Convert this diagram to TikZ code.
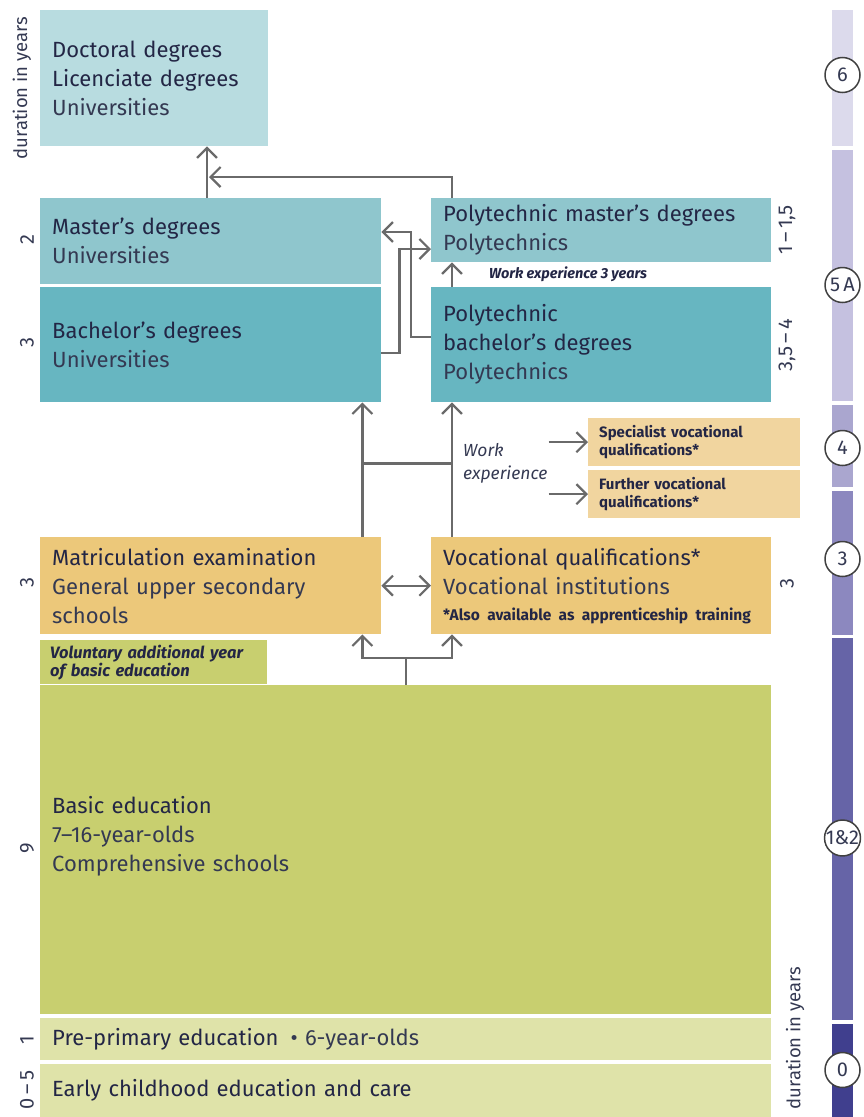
\documentclass[tikz,border=0pt]{standalone}
\usepackage{fontspec}
\setmainfont{Fira Sans}
\usetikzlibrary{arrows.meta}

\definecolor{ink}{HTML}{232645}
\definecolor{inksub}{HTML}{343952}
\definecolor{linkgray}{HTML}{6A6A6A}
\definecolor{doctoralc}{HTML}{B8DCE0}
\definecolor{masterc}{HTML}{8FC6CD}
\definecolor{bachelorc}{HTML}{67B6C1}
\definecolor{upperc}{HTML}{ECC87A}
\definecolor{furtherc}{HTML}{F1D59F}
\definecolor{basicc}{HTML}{C8CF6F}
\definecolor{earlyc}{HTML}{DFE3A9}
\definecolor{barsix}{HTML}{DCDAEC}
\definecolor{barfive}{HTML}{C5C1E0}
\definecolor{barfour}{HTML}{AAA6CF}
\definecolor{barthree}{HTML}{8C88BF}
\definecolor{barbasic}{HTML}{6664A7}
\definecolor{barzero}{HTML}{403F8E}

\newcommand{\sub}[1]{{\color{inksub}#1}}

\begin{document}
\begin{tikzpicture}[x=1pt,y=-1pt]
    \tikzstyle{box}=[rectangle,anchor=north west,inner xsep=12pt,inner ysep=0pt,align=left,text=ink,font=\fontsize{22}{29}\selectfont]
    \tikzstyle{half}=[text width=317pt,minimum width=341pt]
    \tikzstyle{full}=[text width=707pt,minimum width=731pt]
    \tikzstyle{small}=[box,inner xsep=11pt,text width=190pt,minimum width=212pt,minimum height=48pt,fill=furtherc,font=\fontsize{15}{17.5}\selectfont\bfseries]
    \tikzstyle{link}=[draw=linkgray,line width=2.2pt,-{Straight Barb[length=10pt,width=20pt]}]
    \tikzstyle{twoway}=[link,{Straight Barb[length=10pt,width=20pt]}-{Straight Barb[length=10pt,width=20pt]}]
    \tikzstyle{line}=[draw=linkgray,line width=2.2pt]
    \tikzstyle{side}=[rotate=90,text=inksub,font=\fontsize{20}{20}\selectfont]
    \tikzstyle{level}=[circle,draw=black!75,line width=1.5pt,fill=white,minimum size=35pt,inner sep=0pt,text=inksub,font=\fontsize{20}{20}\selectfont]
    \useasboundingbox (0,0) rectangle (863,1117);
    \node (doctoral)     at (40,10)   [box,fill=doctoralc,text width=204pt,minimum width=228pt,minimum height=136pt] {Doctoral degrees\\Licenciate degrees\\\sub{Universities}};
    \node (master)       at (40,198)  [box,half,fill=masterc,minimum height=86pt] {Master’s degrees\\\sub{Universities}};
    \node (bachelor)     at (40,287)  [box,half,fill=bachelorc,minimum height=115pt] {Bachelor’s degrees\\\sub{Universities}};
    \node (polymaster)   at (431,198) [box,half,text width=316pt,minimum width=340pt,fill=masterc,minimum height=64pt] {Polytechnic master’s degrees\\\sub{Polytechnics}};
    \node (polybachelor) at (431,287) [box,half,text width=316pt,minimum width=340pt,fill=bachelorc,minimum height=115pt] {Polytechnic\\bachelor’s degrees\\\sub{Polytechnics}};
    \node (specialist)   at (588,418) [small] {Specialist vocational\\qualifications*};
    \node (further)      at (588,470) [small] {Further vocational\\qualifications*};
    \node (matric)       at (40,537)  [box,half,fill=upperc,minimum height=97pt] {Matriculation examination\\\sub{General upper secondary}\\\sub{schools}};
    \node (vocational)   at (431,537) [box,half,text width=316pt,minimum width=340pt,fill=upperc,minimum height=97pt] {Vocational qualifications*\\\sub{Vocational institutions}\\[-3pt]{\fontsize{15.5}{17}\selectfont\bfseries *Also available as apprenticeship training}};
    \node (voluntary)    at (40,640)  [box,inner xsep=10pt,text width=207pt,minimum width=227pt,minimum height=44pt,fill=basicc,font=\fontsize{16.5}{15}\selectfont\bfseries\itshape] {Voluntary additional year\\of basic education};
    \node (basic)        at (40,685)  [box,full,fill=basicc,minimum height=329pt] {};
    \node (basictext)    at (40,836)  [box,anchor=west,full] {Basic education\\\sub{7–16-year-olds}\\\sub{Comprehensive schools}};
    \node (preprimary)   at (40,1018) [box,full,fill=earlyc,minimum height=42pt] {Pre-primary education\hspace{12pt}\sub{• 6-year-olds}};
    \node (early)        at (40,1064) [box,full,fill=earlyc,minimum height=53pt] {Early childhood education and care};
    \draw [white,line width=1.6pt,dotted] (voluntary.south west) -- (voluntary.south east);
    \node (workthree) at (568,274) [text=ink,font=\fontsize{14.5}{15}\selectfont\bfseries\itshape] {Work experience 3 years};
    \node (work) at (463,463) [anchor=west,align=left,inner sep=0pt,text=inksub,font=\fontsize{17.5}{23}\selectfont\itshape] {Work\\experience};
    \draw [link] ([xshift=167pt]master.north west) -- ([xshift=167pt]master.north west |- doctoral.south);
    \coordinate (joindoc) at (209,177);
    \draw [link] ([xshift=21pt]polymaster.north west) |- (joindoc);
    \draw [link] ([xshift=21pt]polybachelor.north west) -- ([xshift=21pt]polymaster.south west);
    \draw [link] ([yshift=-50pt]polybachelor.north west) -- ++(-20,0) |- ([yshift=-34pt]master.north east);
    \draw [link] ([yshift=-66pt]bachelor.north east) -- ++(18,0) |- ([yshift=-51pt]polymaster.north west);
    \draw [link] ([xshift=-19pt]matric.north east) -- ([xshift=-19pt]bachelor.south east);
    \draw [link] ([xshift=21pt]vocational.north west) -- ([xshift=21pt]polybachelor.south west);
    \draw [line] ([xshift=-19pt,yshift=-61pt]bachelor.south east) -- ++(90,0);
    \draw [link] ([xshift=1pt]work.east |- specialist.west) -- (specialist.west);
    \draw [link] ([xshift=1pt]work.east |- further.west) -- (further.west);
    \draw [twoway] (matric.east) -- (vocational.west);
    \draw [line] (basic.north) -- ++(0,-27) coordinate (fork);
    \draw [link] (fork) -| ([xshift=-19pt]matric.south east);
    \draw [link] (fork) -| ([xshift=21pt]vocational.south west);
    \node (durleft) at (22,88)  [side,font=\fontsize{18.5}{18.5}\selectfont] {duration in years};
    \node (dur2)    at (27,240) [side] {2};
    \node (dur3a)   at (27,343) [side] {3};
    \node (dur3b)   at (27,583) [side] {3};
    \node (dur9)    at (27,848) [side] {9};
    \node (dur1)    at (27,1040) [side] {1};
    \node (dur05)   at (27,1090) [side] {0\,–\,5};
    \node (dur115)  at (787,230) [side] {1\,–\,1,5};
    \node (dur354)  at (787,345) [side] {3,5\,–\,4};
    \node (dur3c)   at (787,584) [side] {3};
    \node (durright) at (795,1038) [side,font=\fontsize{18.5}{18.5}\selectfont] {duration in years};
    \fill [barsix]   (832,10)   rectangle (853,146);
    \fill [barfive]  (832,150)  rectangle (853,401);
    \fill [barfour]  (832,405)  rectangle (853,487);
    \fill [barthree] (832,491)  rectangle (853,635);
    \fill [barbasic] (832,638)  rectangle (853,1020);
    \fill [barzero]  (832,1024) rectangle (853,1117);
    \node (lvl6)  at (842.5,75)   [level] {6};
    \node (lvl5)  at (842.5,285)  [level] {5\,A};
    \node (lvl4)  at (842.5,448)  [level] {4};
    \node (lvl3)  at (842.5,559)  [level] {3};
    \node (lvl12) at (842.5,838)  [level] {1\&2};
    \node (lvl0)  at (842.5,1070) [level] {0};
\end{tikzpicture}
\end{document}
